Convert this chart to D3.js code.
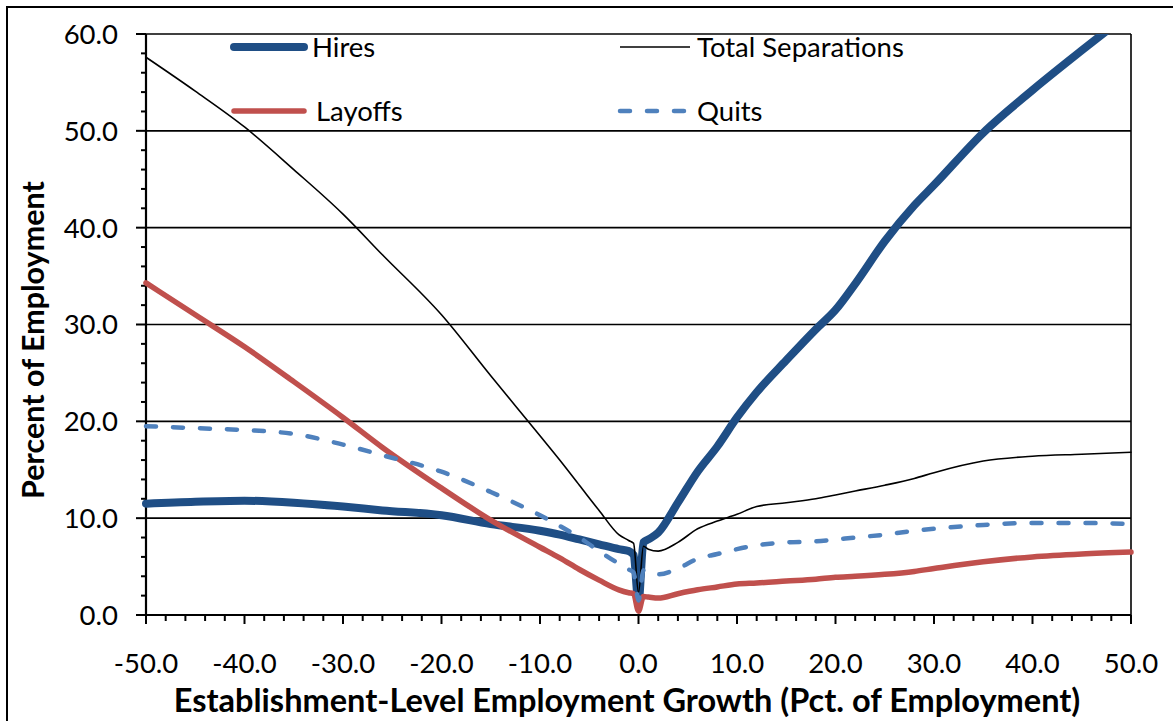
<!DOCTYPE html>
<html><head><meta charset="utf-8">
<script src="https://cdn.jsdelivr.net/npm/d3@7"></script>
<style>
html,body{margin:0;padding:0;background:#fff;}
svg{display:block;font-family:Lato,"Open Sans",sans-serif;}
</style></head>
<body>
<svg id="c" width="1173" height="721"></svg>
<script>
// ---- data ----
const xVals = [-50,-45,-40,-35,-30,-26,-20,-15,-10,-8,-6,-4,-2,-1,-0.5,0,0.5,1,2,4,6,8,10,12,15,18,20,22,25,28,30,35,40,45,50];
const hires = [11.5,11.7,11.8,11.6,11.2,10.8,10.3,9.4,8.7,8.3,7.8,7.3,6.8,6.6,6.2,1.3,7.5,7.8,8.5,11.6,14.8,17.4,20.4,23.0,26.3,29.5,31.5,34.2,38.6,42.3,44.4,49.8,54.2,58.3,62.3];
const totalSeparations = [57.6,54.1,50.4,46.0,41.4,37.2,31.0,24.7,18.5,16.0,13.4,10.8,8.3,7.7,7.4,2.3,7.1,6.8,6.6,7.5,8.9,9.7,10.4,11.2,11.6,12.0,12.4,12.8,13.4,14.1,14.7,15.9,16.4,16.6,16.8];
const layoffs = [34.3,31.0,27.7,24.1,20.4,17.3,13.1,9.8,7.0,5.9,4.7,3.6,2.6,2.3,2.2,0.4,1.9,1.85,1.75,2.2,2.6,2.9,3.2,3.3,3.5,3.7,3.9,4.0,4.2,4.5,4.8,5.5,6.0,6.3,6.5];
const quits = [19.5,19.3,19.1,18.7,17.6,16.5,14.8,12.7,10.3,9.2,8.0,6.6,5.3,4.7,4.4,1.5,4.6,4.3,4.2,4.8,5.8,6.3,6.8,7.2,7.5,7.6,7.8,8.0,8.3,8.7,8.9,9.3,9.5,9.5,9.4];
const seriesNames = ["Hires","Total Separations","Layoffs","Quits"];
const xTicks = [-50,-40,-30,-20,-10,0,10,20,30,40,50];
const yTicks = [0,10,20,30,40,50,60];
const xTitle = "Establishment-Level Employment Growth (Pct. of Employment)";
const yTitle = "Percent of Employment";

// ---- layout ----
const svg = d3.select("#c");
const L = 146, R = 1131, T = 34, B = 615;
const x = d3.scaleLinear().domain([-50,50]).range([L,R]);
const y = d3.scaleLinear().domain([0,60]).range([B,T]);
const fmt = d => d.toFixed(1);

// outer frame
svg.append("rect").attr("x",7).attr("y",7).attr("width",1200).attr("height",760)
  .attr("fill","none").attr("stroke","#000").attr("stroke-width",2);

// gridlines
svg.append("g").selectAll("line").data(yTicks.filter(d=>d>0)).join("line")
  .attr("x1",L).attr("x2",R).attr("y1",d=>y(d)).attr("y2",d=>y(d))
  .attr("stroke","#000").attr("stroke-width",1.6);
// right border of plot area
svg.append("line").attr("x1",R).attr("x2",R).attr("y1",T).attr("y2",B)
  .attr("stroke","#000").attr("stroke-width",1.6);

// y axis
const yMinor = d3.range(0,61,2);
const gy = svg.append("g").attr("transform",`translate(${L},0)`);
gy.selectAll("line.t").data(yMinor).join("line").attr("class","t")
  .attr("x1",d=>d%10===0?-10:-5).attr("x2",0).attr("y1",d=>y(d)).attr("y2",d=>y(d))
  .attr("stroke","#000").attr("stroke-width",2);
gy.append("line").attr("x1",0).attr("x2",0).attr("y1",T).attr("y2",B).attr("stroke","#000").attr("stroke-width",2.2);
gy.selectAll("text").data(yTicks).join("text")
  .attr("x",-28).attr("y",d=>y(d)).attr("dy","0.36em").attr("text-anchor","end")
  .attr("font-size",27.5).attr("fill","#000").text(fmt);

// x axis
const xMinor = d3.range(-50,51,2);
const gx = svg.append("g").attr("transform",`translate(0,${B})`);
gx.selectAll("line.t").data(xMinor).join("line").attr("class","t")
  .attr("x1",d=>x(d)).attr("x2",d=>x(d)).attr("y1",0).attr("y2",d=>d%10===0?9:6)
  .attr("stroke","#000").attr("stroke-width",2);
gx.append("line").attr("x1",L).attr("x2",R).attr("y1",0).attr("y2",0).attr("stroke","#000").attr("stroke-width",2.2);
gx.selectAll("text").data(xTicks).join("text")
  .attr("x",d=>x(d)).attr("y",48).attr("dy","0.36em").attr("text-anchor","middle")
  .attr("font-size",27.5).attr("fill","#000").text(fmt);

// axis titles
function fit(sel, target){
  const w = sel.node().getComputedTextLength();
  const fs = parseFloat(sel.attr("font-size"));
  sel.attr("font-size", fs*target/w);
}
const xt = svg.append("text").attr("x",627).attr("y",700).attr("dy","0.36em")
  .attr("text-anchor","middle").attr("font-weight","bold").attr("font-size",28).text(xTitle);
fit(xt, 907);
const yt = svg.append("text").attr("transform","translate(33,340) rotate(-90)").attr("dy","0.36em")
  .attr("text-anchor","middle").attr("font-weight","bold").attr("font-size",28).text(yTitle);
fit(yt, 318);

// series
const series = [
  {name:seriesNames[0], vals:hires, color:"#1F4E85", w:8, dash:null},
  {name:seriesNames[1], vals:totalSeparations, color:"#000000", w:1.6, dash:null},
  {name:seriesNames[2], vals:layoffs, color:"#C0504D", w:5.5, dash:null},
  {name:seriesNames[3], vals:quits, color:"#4F81BD", w:4.5, dash:"10,17"}
];
const line = d3.line().x(d=>x(d[0])).y(d=>y(d[1])).curve(d3.curveMonotoneX);
svg.append("clipPath").attr("id","pb").append("rect")
  .attr("x",L-5).attr("y",T).attr("width",R-L+10).attr("height",B-T+10);
const gs = svg.append("g").attr("clip-path","url(#pb)");
series.forEach(s=>{
  gs.append("path").datum(xVals.map((xv,i)=>[xv,s.vals[i]]))
    .attr("d",line).attr("fill","none").attr("stroke",s.color).attr("stroke-width",s.w)
    .attr("stroke-linejoin","round").attr("stroke-linecap","round")
    .attr("stroke-dasharray",s.dash);
});

// legend
const leg = [
  {s:series[0], x1:234, x2:304, tx:312, cy:47},
  {s:series[1], x1:620, x2:690, tx:697, cy:47},
  {s:series[2], x1:234, x2:304, tx:316, cy:111},
  {s:series[3], x1:620, x2:690, tx:697, cy:111}
];
const gl = svg.append("g");
leg.forEach(l=>{
  gl.append("line").attr("x1",l.x1).attr("x2",l.x2).attr("y1",l.cy).attr("y2",l.cy)
    .attr("stroke",l.s.color).attr("stroke-width",l.s.w).attr("stroke-linecap",l.s.w>2?"round":"butt")
    .attr("stroke-dasharray",l.s.dash ? "10,17" : null);
  gl.append("text").attr("x",l.tx).attr("y",l.cy).attr("dy","0.36em")
    .attr("font-size",27.5).attr("fill","#000").text(l.s.name);
});
</script>
</body></html>
